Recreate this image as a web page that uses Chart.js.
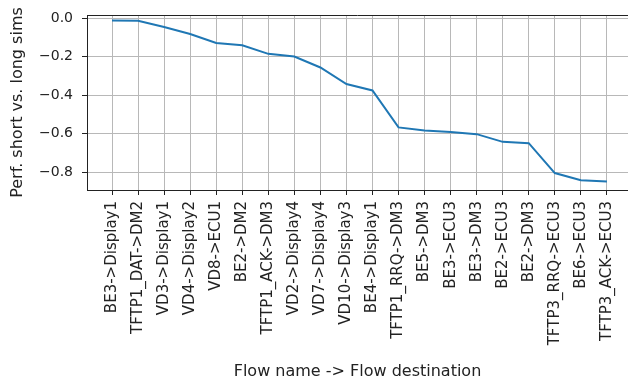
<!DOCTYPE html>
<html>
<head>
<meta charset="utf-8">
<script src="https://cdn.jsdelivr.net/npm/chart.js@4"></script>
<style>
  html, body { margin: 0; padding: 0; background: #fff; overflow: hidden; }
  canvas { display: block; }
</style>
</head>
<body>
<canvas id="chart" width="628" height="384"></canvas>
<script>
// Flows, ordered from smallest to largest loss
const flows = [
  'BE3->Display1', 'TFTP1_DAT->DM2', 'VD3->Display1', 'VD4->Display2', 'VD8->ECU1',
  'BE2->DM2', 'TFTP1_ACK->DM3', 'VD2->Display4', 'VD7->Display4', 'VD10->Display3',
  'BE4->Display1', 'TFTP1_RRQ->DM3', 'BE5->DM3', 'BE3->ECU3', 'BE3->DM3',
  'BE2->ECU3', 'BE2->DM3', 'TFTP3_RRQ->ECU3', 'BE6->ECU3', 'TFTP3_ACK->ECU3'
];

// Relative performance, short vs. long simulations
const perfRatio = [
  -0.013, -0.014, -0.047, -0.083, -0.130,
  -0.142, -0.186, -0.200, -0.257, -0.343,
  -0.376, -0.568, -0.584, -0.592, -0.603,
  -0.643, -0.650, -0.805, -0.842, -0.849
];

const yTickValues = [0, -0.2, -0.4, -0.6, -0.8];
const yTickLabels = ['0.0', '\u22120.2', '\u22120.4', '\u22120.6', '\u22120.8'];

const xAxisTitle = 'Flow name -> Flow destination';
const yAxisTitle = 'Perf. short vs. long sims';

const FONT = 'DejaVu Sans';
const TEXT = '#222';
const GRID = '#b8b8b8';

// Closes the frame along the top edge of the plot area
const topSpine = {
  id: 'topSpine',
  afterDraw(chart) {
    const { ctx, chartArea } = chart;
    ctx.save();
    ctx.strokeStyle = TEXT;
    ctx.lineWidth = 1;
    ctx.beginPath();
    ctx.moveTo(chartArea.left, chartArea.top + 0.5);
    ctx.lineTo(chartArea.right, chartArea.top + 0.5);
    ctx.stroke();
    ctx.restore();
  }
};

new Chart(document.getElementById('chart'), {
  type: 'line',
  data: {
    datasets: [{
      data: perfRatio.map((v, i) => ({ x: i, y: v })),
      borderColor: '#1f77b4',
      borderWidth: 2,
      pointRadius: 0,
      tension: 0,
      fill: false
    }]
  },
  options: {
    responsive: false,
    animation: false,
    layout: { padding: { top: 15, right: 0, bottom: 0, left: 0 } },
    plugins: { legend: { display: false }, tooltip: { enabled: false } },
    scales: {
      x: {
        type: 'linear',
        min: -0.96,
        max: 19.81,
        afterBuildTicks: s => { s.ticks = flows.map((_, i) => ({ value: i })); },
        afterFit: s => { s.height = 194; s.paddingLeft = 0; s.paddingRight = 0; },
        grid: { color: GRID, lineWidth: 1, tickColor: TEXT, tickLength: 5 },
        border: { color: TEXT, width: 1 },
        ticks: {
          autoSkip: false,
          minRotation: 90,
          maxRotation: 90,
          padding: 6,
          color: TEXT,
          font: { family: FONT, size: 15 },
          callback: v => flows[v] ?? ''
        },
        title: {
          display: true,
          text: xAxisTitle,
          color: TEXT,
          font: { family: FONT, size: 16 },
          padding: { top: 0, bottom: 3 }
        }
      },
      y: {
        type: 'linear',
        min: -0.893,
        max: 0.0156,
        afterBuildTicks: s => { s.ticks = yTickValues.map(v => ({ value: v })); },
        afterFit: s => { s.width = 87; s.paddingTop = 0; s.paddingBottom = 0; },
        grid: { color: GRID, lineWidth: 1, tickColor: TEXT, tickLength: 5 },
        border: { color: TEXT, width: 1 },
        ticks: {
          padding: 9,
          color: TEXT,
          font: { family: FONT, size: 14 },
          callback: v => yTickLabels[yTickValues.findIndex(t => Math.abs(t - v) < 1e-9)] ?? ''
        },
        title: {
          display: true,
          text: yAxisTitle,
          color: TEXT,
          font: { family: FONT, size: 16 },
          padding: { top: 8, bottom: 0 }
        }
      }
    }
  },
  plugins: [topSpine]
});
</script>
</body>
</html>
